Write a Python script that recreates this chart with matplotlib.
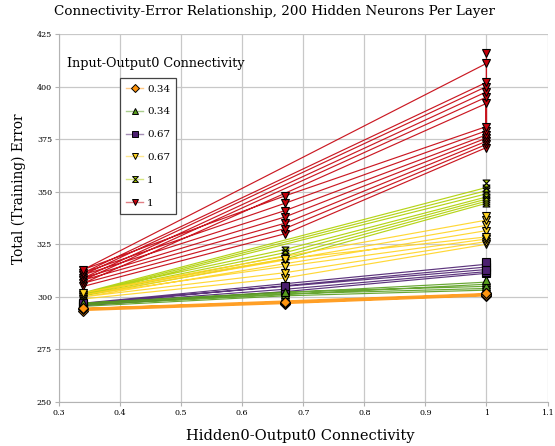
import matplotlib
matplotlib.use("Agg")
import matplotlib.pyplot as plt
from matplotlib.path import Path
from matplotlib.lines import Line2D
from matplotlib.colors import to_rgba

# ---------------- data ----------------
x_levels = [0.34, 0.67, 1.0]
labels = ["0.34", "0.34", "0.67", "0.67", "1", "1"]
colors = ["#ff950e", "#579d1c", "#4b1f6f", "#ffd320", "#aecf00", "#c5000b"]

# per group: values at x=0.34, x=0.67, and two readings at x=1 (lower / upper)
orange_a = [293.5, 294.0, 294.5]
orange_b = [296.8, 297.2, 297.5]
orange_c1 = [300.5, 300.8, 301.0]
orange_c2 = [301.3, 301.6, 302.0]

green_a = [295.5, 296.3, 297.0]
green_b = [300.5, 301.4, 302.3]
green_c1 = [303.2, 304.0, 305.0]
green_c2 = [306.0, 307.0, 308.0]

purple_a = [295.8, 296.4, 297.0]
purple_b = [302.5, 303.6, 305.0]
purple_c1 = [311.2, 312.0, 313.0]
purple_c2 = [314.2, 315.5, 316.7]

yellow_a = [299.0, 300.0, 301.0, 302.0]
yellow_b = [309.0, 311.5, 314.5, 318.0]
yellow_c1 = [325.0, 326.3, 327.5, 328.5]
yellow_c2 = [331.5, 334.0, 336.5, 338.5]

ygreen_a = [300.5, 301.0, 301.5, 302.0]
ygreen_b = [318.0, 319.5, 321.0, 322.5]
ygreen_c1 = [344.5, 345.5, 346.5, 347.5]
ygreen_c2 = [349.0, 350.5, 352.0, 354.0]

red_a = [305.0, 306.5, 308.0, 309.0, 310.5, 311.5, 313.0]
red_b = [330.0, 332.5, 335.0, 338.0, 341.0, 344.5, 348.0]
red_c1 = [371.0, 372.5, 374.0, 375.5, 377.0, 379.0, 381.0]
red_c2 = [392.0, 395.0, 397.5, 400.0, 402.0, 411.0, 416.0]

series = [
    (orange_a, orange_b, orange_c1, orange_c2),
    (green_a, green_b, green_c1, green_c2),
    (purple_a, purple_b, purple_c1, purple_c2),
    (yellow_a, yellow_b, yellow_c1, yellow_c2),
    (ygreen_a, ygreen_b, ygreen_c1, ygreen_c2),
    (red_a, red_b, red_c1, red_c2),
]

x_ticks = [0.3, 0.4, 0.5, 0.6, 0.7, 0.8, 0.9, 1.0, 1.1]
x_ticklabels = ["0.3", "0.4", "0.5", "0.6", "0.7", "0.8", "0.9", "1", "1.1"]
y_ticks = [250, 275, 300, 325, 350, 375, 400, 425]

# ---------------- style ----------------
plt.rcParams["font.family"] = ["DejaVu Serif"]

hourglass = Path([(-1, 1), (1, 1), (-1, -1), (1, -1), (-1, 1)],
                 [Path.MOVETO, Path.LINETO, Path.LINETO, Path.LINETO, Path.CLOSEPOLY])
markers = ["D", "^", "s", "v", hourglass, "v"]
msizes = [4.6, 5.6, 5.4, 5.6, 5.0, 5.6]

W, H = 555, 446
fig = plt.figure(figsize=(W / 100, H / 100), dpi=100)
ax = fig.add_axes([59 / W, 1 - 402 / H, (547.5 - 59) / W, (402 - 34) / H])

n = len(series)
for i, (a, b, c1, c2) in enumerate(series):
    xs, ys = [], []
    for k in range(len(a)):
        xs += [x_levels[0], x_levels[1], x_levels[2], x_levels[2]]
        ys += [a[k], b[k], c1[k], c2[k]]
    z = 10 + (n - i)
    ax.plot(xs, ys, color=colors[i], lw=0.85, alpha=0.9, zorder=z)
    ax.plot(xs, ys, ls="none", marker=markers[i], ms=msizes[i],
            mfc=colors[i], mec="black", mew=0.8, zorder=z + 10)

ax.set_xlim(0.3, 1.1)
ax.set_ylim(250, 425)
ax.set_xticks(x_ticks)
ax.set_xticklabels(x_ticklabels)
ax.set_yticks(y_ticks)
ax.grid(True, color="#c8c8c8", lw=0.9)
ax.set_axisbelow(True)
for s in ["top", "right"]:
    ax.spines[s].set_visible(False)
for s in ["left", "bottom"]:
    ax.spines[s].set_color("#b3b3b3")
ax.tick_params(axis="both", labelsize=5.8, length=3, color="#b3b3b3", pad=2)

fig.text(275 / W, 1 - 12 / H, "Connectivity-Error Relationship, 200 Hidden Neurons Per Layer",
         ha="center", va="center", fontsize=9.7)
fig.text(300 / W, 1 - 436 / H, "Hidden0-Output0 Connectivity",
         ha="center", va="center", fontsize=10.5)
fig.text(19 / W, 1 - 189 / H, "Total (Training) Error", rotation=90,
         ha="center", va="center", fontsize=9.8)
fig.text(67 / W, 1 - 63 / H, "Input-Output0 Connectivity",
         ha="left", va="center", fontsize=9.2)

handles = []
for i in range(n):
    handles.append(Line2D([0], [0], color=to_rgba(colors[i], 0.5), lw=1,
                          marker=markers[i], ms=msizes[i] * 0.85, mfc=colors[i],
                          mec="black", mew=0.7))
leg = ax.legend(handles, labels, loc="upper left",
                bbox_to_anchor=(120 / W, 1 - 78 / H), bbox_transform=fig.transFigure,
                borderaxespad=0, fontsize=7.5, handlelength=1.6, handletextpad=0.4,
                labelspacing=1.3, borderpad=0.6, fancybox=False, framealpha=1)
leg.get_frame().set_edgecolor("#444444")
leg.get_frame().set_linewidth(0.9)
leg.set_zorder(50)

fig.savefig("out.png", dpi=100)
